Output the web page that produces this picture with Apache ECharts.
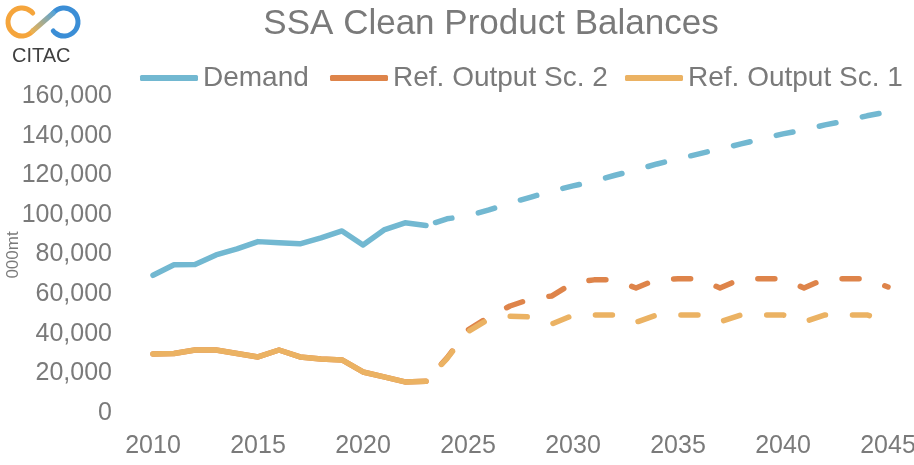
<!DOCTYPE html>
<html>
<head>
<meta charset="utf-8">
<script src="https://cdn.jsdelivr.net/npm/echarts@6/dist/echarts.min.js"></script>
<style>html,body{margin:0;padding:0;background:#fff;}#chart{width:914px;height:465px;}</style>
</head>
<body>
<div id="chart"></div>
<script>
// ---- data ----
const histYears = [2010,2011,2012,2013,2014,2015,2016,2017,2018,2019,2020,2021,2022,2023];
const projYears = [2023,2024,2025,2026,2027,2028,2029,2030,2031,2032,2033,2034,2035,2036,2037,2038,2039,2040,2041,2042,2043,2044,2045];
const demandHist = [69500,74800,75000,79800,82800,86500,85900,85400,88400,91900,84800,92400,96000,94600];
const demandProj = [94600,98000,99500,102500,106000,109000,112000,114600,117000,120000,122700,125700,128300,130800,133300,135800,138400,140900,142900,145400,147500,150000,152000];
const sc2Hist = [29800,30000,31800,31800,30000,28300,31800,28300,27300,26800,20700,18200,15700,16000];
const sc2Proj = [16000,27800,41900,48500,54000,57600,59100,65700,67200,67200,63100,67500,67700,67700,63100,67700,67700,67700,63100,67700,67700,67700,63600];
const sc1Hist = [29800,30000,31800,31800,30000,28300,31800,28300,27300,26800,20700,18200,15700,16000];
const sc1Proj = [16000,27500,41000,47500,48800,48500,45000,49300,49500,49500,45800,49500,49500,49500,46000,49500,49500,49500,46000,49500,49500,49500,46000];
const xTicks = [2010,2015,2020,2025,2030,2035,2040,2045];
const names = ['Demand','Ref. Output Sc. 2','Ref. Output Sc. 1'];
const yAxisTitle = '000mt';

const pair = (xs, ys) => xs.map((x, i) => [x, ys[i]]);
const FONT = '"Liberation Sans", Arial, sans-serif';
const GRAY = '#7a7a7a';
const C_DEM = '#72B8D1', C_SC2 = '#DE844A', C_SC1 = '#EBB263';
const LW = 5.5;

function solid(name, color, xs, ys) {
  return {type:'line', name, data: pair(xs, ys), showSymbol:false, symbol:'none',
    itemStyle:{color}, lineStyle:{color, width:LW, cap:'round', join:'round'}, silent:true};
}
function dashed(name, color, xs, ys, off) {
  return {type:'line', name, data: pair(xs, ys), showSymbol:false, symbol:'none',
    itemStyle:{color}, lineStyle:{color, width:LW, type:[17,27], dashOffset:off, cap:'round', join:'round'}, silent:true};
}

const chart = echarts.init(document.getElementById('chart'), null, {renderer:'canvas'});
const d = Math.PI/180;
const legendBase = {orient:'horizontal', top:64, padding:0, itemWidth:58, itemHeight:6, icon:'roundRect', selectedMode:false,
  textStyle:{fontSize:28, color:GRAY, fontFamily:FONT}};

chart.setOption({
  animation:false,
  backgroundColor:'#fff',
  grid:{left:153, right:26, top:96, bottom:52, containLabel:false, outerBoundsMode:'none'},
  legend:[
    Object.assign({}, legendBase, {data:[names[0]], left:140}),
    Object.assign({}, legendBase, {data:[names[1]], left:330}),
    Object.assign({}, legendBase, {data:[names[2]], left:625})
  ],
  xAxis:{type:'value', min:2010, max:2045, interval:5,
    axisLine:{show:false}, axisTick:{show:false}, splitLine:{show:false},
    axisLabel:{margin:21, fontSize:25, color:GRAY, fontFamily:FONT, formatter:v => String(v),
      customValues: xTicks}},
  yAxis:{type:'value', min:0, max:160000, interval:20000,
    axisLine:{show:false}, axisTick:{show:false}, splitLine:{show:false},
    axisLabel:{margin:41, fontSize:25, color:GRAY, fontFamily:FONT,
      formatter:v => v.toLocaleString('en-US')}},
  graphic:[
    {type:'text', x:491, y:24, style:{text:'SSA Clean Product Balances', font:'35px ' + FONT, fill:GRAY, textAlign:'center', textVerticalAlign:'middle'}},
    {type:'text', x:13, y:255, rotation:Math.PI/2, style:{text:yAxisTitle, font:'17px ' + FONT, fill:GRAY, textAlign:'center', textVerticalAlign:'middle'}},
    {type:'arc', shape:{cx:22, cy:22, r:14, startAngle:40*d, endAngle:320*d, clockwise:true}, style:{stroke:'#F5A53C', lineWidth:5, fill:null, lineCap:'round'}},
    {type:'arc', shape:{cx:64, cy:22, r:14, startAngle:220*d, endAngle:500*d, clockwise:true}, style:{stroke:'#3B8ED6', lineWidth:5, fill:null, lineCap:'round'}},
    {type:'line', shape:{x1:32.7, y1:31, x2:53.3, y2:13}, style:{lineWidth:5, lineCap:'round',
      stroke:new echarts.graphic.LinearGradient(0,1,1,0,[{offset:0,color:'#F7B347'},{offset:1,color:'#4DA3E0'}])}},
    {type:'text', x:12, y:56, style:{text:'CITAC', font:'20px ' + FONT, fill:'#404040', textVerticalAlign:'middle'}}
  ],
  series:[
    solid(names[0], C_DEM, histYears, demandHist),
    dashed(names[0], C_DEM, projYears, demandProj, 34),
    solid(names[1], C_SC2, histYears, sc2Hist),
    dashed(names[1], C_SC2, projYears, sc2Proj, 21),
    solid(names[2], C_SC1, histYears, sc1Hist),
    dashed(names[2], C_SC1, projYears, sc1Proj, 21)
  ]
});
</script>
</body>
</html>
